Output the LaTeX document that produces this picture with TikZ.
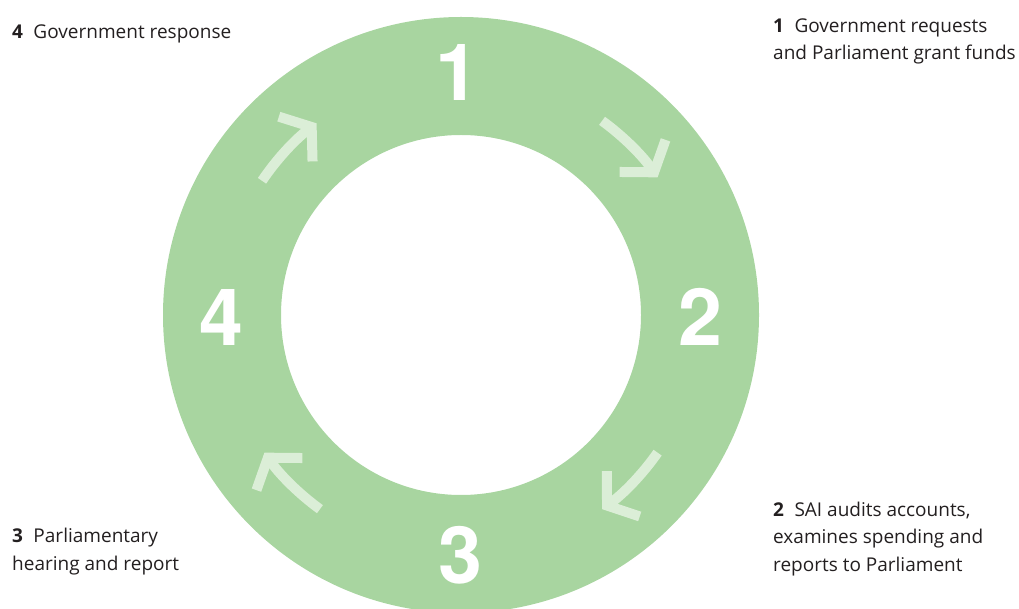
\documentclass[tikz,border=0pt]{standalone}
\usepackage{fontspec}
\setmainfont{Open Sans}
\newfontfamily\numfont{TeX Gyre Heros}
\usetikzlibrary{arrows.meta}

\definecolor{ringgreen}{RGB}{168,213,160}
\definecolor{arrowgreen}{RGB}{219,238,215}
\definecolor{textgray}{RGB}{35,31,32}

\tikzset{
    stagenum/.style={text=white, inner sep=0pt,
        font=\numfont\bfseries\fontsize{79}{79}\selectfont},
    stagelabel/.style={text=textgray, inner sep=0pt, anchor=base west,
        align=left, font=\fontsize{19}{27.5}\selectfont},
    cyclearrow/.style={arrowgreen, line width=10pt,
        -{Straight Barb[length=20pt, width=56pt]}}
}

\newcommand{\stepno}[1]{\textbf{#1}\hspace{0.55em}}

\begin{document}
\begin{tikzpicture}[x=1pt, y=1pt]

        \useasboundingbox (0,0) rectangle (1019,608);
        \coordinate (c) at (461,293);

        % Ring
        \fill[ringgreen, even odd rule] (c) circle (298) (c) circle (180);

        % Stage numbers
        \node[stagenum] (n1) at (457,536) {1};
        \node[stagenum] (n2) at (700,291) {2};
        \node[stagenum] (n3) at (460, 53) {3};
        \node[stagenum] (n4) at (221,291) {4};

        % Arrows round the ring
        \draw[cyclearrow] ([shift={(c)}] 146:240) arc[start angle= 146, end angle= 127, radius=240];
        \draw[cyclearrow] ([shift={(c)}]  54:240) arc[start angle=  54, end angle=  35, radius=240];
        \draw[cyclearrow] ([shift={(c)}] -35:240) arc[start angle= -35, end angle= -54, radius=240];
        \draw[cyclearrow] ([shift={(c)}]-126:240) arc[start angle=-126, end angle=-145, radius=240];

        % Labels (anchored at the baseline of their last line)
        \node[stagelabel] (lab1) at (773,548) {\stepno{1}Government requests\\and Parliament grant funds};
        \node[stagelabel] (lab2) at (773, 37) {\stepno{2}SAI audits accounts,\\examines spending and\\reports to Parliament};
        \node[stagelabel] (lab3) at ( 12, 38) {\stepno{3}Parliamentary\\hearing and report};
        \node[stagelabel] (lab4) at ( 12,569) {\stepno{4}Government response};

    \end{tikzpicture}
\end{document}
